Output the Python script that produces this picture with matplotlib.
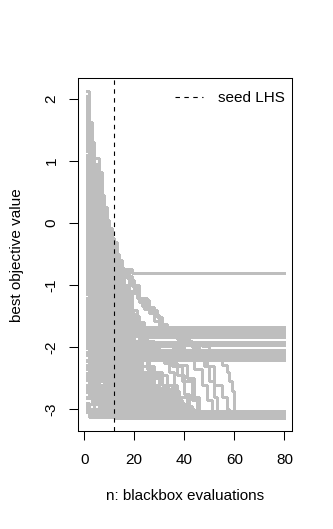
import matplotlib
matplotlib.use('Agg')
import matplotlib.pyplot as plt
from matplotlib.lines import Line2D

# ---------------- data ----------------
seed_n = 12          # end of the seed LHS design
n_max = 80           # last blackbox evaluation
x_ticks = [0, 20, 40, 60, 80]
y_ticks = [-3, -2, -1, 0, 1, 2]
x_label = "n: blackbox evaluations"
y_label = "best objective value"
legend_label = "seed LHS"

# each run: list of (n, best value so far) at the evaluations where the best improved;
# the last value is held until n_max
runs_plateau_081 = [
    [(1, 1.95), (2, 0.62), (5, -0.18), (8, -0.47), (12, -0.69), (15, -0.74), (19, -0.81)],
]

runs_band_172 = [
    [(1, 2.12), (2, 1.55), (3, 1.05), (6, 0.15), (9, -0.22), (11, -0.52), (13, -0.72), (16, -0.78), (18, -0.92), (20, -1.12), (22, -1.28), (24, -1.38), (26, -1.45), (28, -1.57), (30, -1.69)],
    [(1, 1.62), (3, 1.12), (4, 0.82), (7, -0.02), (10, -0.38), (12, -0.66), (14, -0.75), (17, -0.88), (19, -1.02), (21, -1.2), (23, -1.33), (26, -1.42), (29, -1.52), (31, -1.71)],
    [(1, 0.95), (2, 0.4), (5, -0.3), (9, -0.85), (13, -1.1), (15, -1.35), (17, -1.6), (19, -1.72)],
    [(1, 0.3), (3, -0.6), (6, -1.05), (10, -1.4), (14, -1.62), (16, -1.74)],
    [(1, -0.2), (2, -0.9), (7, -1.3), (12, -1.5), (15, -1.66), (18, -1.7)],
    [(1, 1.25), (4, 0.55), (6, 0.1), (8, -0.4), (11, -0.9), (14, -1.25), (18, -1.5), (20, -1.68)],
    [(1, -0.7), (3, -1.2), (5, -1.45), (13, -1.62), (17, -1.73)],
    [(1, 0.6), (2, -0.1), (4, -0.75), (9, -1.15), (12, -1.38), (16, -1.58), (21, -1.75)],
    [(1, -1.1), (6, -1.55), (14, -1.69)],
    [(1, 0.05), (3, -0.45), (8, -0.95), (11, -1.25), (15, -1.55), (19, -1.71)],
    [(1, 1.45), (2, 0.9), (4, 0.45), (7, -0.3), (10, -0.8), (13, -1.15), (16, -1.45), (20, -1.62), (23, -1.76)],
    [(1, -0.45), (4, -1.05), (9, -1.35), (13, -1.58), (22, -1.7)],
    [(1, 1.8), (2, 1.5), (3, 0.9), (5, 0.45), (8, -0.1), (11, -0.5), (14, -1.0), (17, -1.7)],
    [(1, -0.22), (3, -0.85), (8, -1.5), (12, -1.72)],
    [(1, 1.6), (2, 1.1), (3, 0.85), (4, 0.62), (6, 0.2), (9, -0.1), (11, -0.4), (12, -0.55), (14, -0.73), (16, -1.0), (18, -1.4), (21, -1.72)],
    [(1, 0.98), (2, 0.52), (4, 0.15), (6, -0.3), (9, -0.7), (12, -1.05), (15, -1.4), (18, -1.6), (21, -1.73)],
    [(1, -0.15), (4, -0.55), (8, -1.0), (12, -1.35), (15, -1.55), (19, -1.7), (22, -1.74)],
    [(1, 0.62), (2, 0.25), (5, -0.2), (8, -0.65), (11, -1.0), (14, -1.3), (18, -1.55), (22, -1.68)],
]

runs_band_185 = [
    [(1, 0.75), (2, 0.2), (5, -0.55), (9, -1.1), (13, -1.45), (17, -1.7), (20, -1.79)],
    [(1, -0.35), (3, -0.95), (8, -1.4), (12, -1.65), (18, -1.82)],
    [(1, 1.1), (3, 0.3), (6, -0.35), (10, -0.95), (14, -1.35), (18, -1.6), (24, -1.84)],
    [(1, -0.9), (5, -1.5), (11, -1.75), (19, -1.91)],
    [(1, 0.45), (3, -0.2), (7, -0.85), (12, -1.3), (15, -1.6), (19, -1.8), (25, -1.92)],
    [(1, -0.05), (4, -0.8), (9, -1.3), (13, -1.6), (17, -1.82), (23, -1.96)],
    [(1, -1.3), (3, -1.65), (10, -1.85), (16, -1.97), (26, -2.04)],
    [(1, 0.2), (2, -0.3), (6, -0.9), (11, -1.45), (16, -1.72), (20, -1.8)],
    [(1, 0.58), (4, 0.0), (6, -0.4), (9, -0.75), (12, -1.05), (15, -1.5), (19, -1.8)],
    [(1, -0.98), (3, -1.35), (7, -1.65), (12, -1.85), (18, -1.95)],
]

runs_band_215 = [
    [(1, 1.35), (2, 0.75), (5, 0.05), (8, -0.5), (12, -1.0), (14, -1.4), (16, -1.7), (18, -1.95), (21, -2.12)],
    [(1, -0.55), (3, -1.15), (7, -1.6), (11, -1.9), (15, -2.05), (19, -2.15)],
    [(1, 0.85), (2, 0.25), (4, -0.4), (9, -1.2), (13, -1.7), (16, -2.0), (20, -2.18)],
    [(1, -1.5), (4, -1.85), (10, -2.02), (17, -2.11)],
    [(1, 0.15), (3, -0.7), (6, -1.25), (12, -1.75), (17, -2.0), (22, -2.14)],
    [(1, -1.0), (2, -1.4), (8, -1.8), (14, -2.05), (18, -2.2)],
    [(1, 1.7), (2, 1.15), (3, 0.7), (5, 0.1), (7, -0.35), (10, -0.8), (13, -1.2), (17, -1.6), (20, -1.9), (23, -2.1), (26, -2.16)],
    [(1, -0.25), (4, -1.1), (9, -1.65), (15, -1.98), (21, -2.13)],
    [(1, -1.8), (7, -2.0), (16, -2.17)],
    [(1, 0.55), (3, -0.15), (6, -0.8), (10, -1.35), (14, -1.8), (19, -2.05), (24, -2.19)],
    [(1, -2.0), (9, -2.12)],
    [(1, -0.8), (3, -1.3), (6, -1.7), (13, -1.95), (20, -2.1)],
    [(1, 0.35), (2, -0.4), (5, -1.0), (11, -1.55), (16, -1.9), (23, -2.15)],
    [(1, -1.25), (5, -1.75), (12, -2.0), (18, -2.14)],
    [(1, 1.0), (2, 0.5), (6, -0.45), (10, -1.1), (15, -1.65), (19, -2.0), (22, -2.2)],
    [(1, -0.6), (2, -1.2), (7, -1.75), (15, -2.08), (24, -2.17)],
    [(1, 1.65), (2, 1.35), (3, 0.6), (5, 0.3), (7, -0.1), (10, -0.6), (13, -1.4), (16, -2.12)],
    [(1, 1.2), (3, 0.8), (5, 0.42), (7, 0.1), (9, -0.25), (11, -0.5), (13, -0.76), (16, -1.1), (19, -1.5), (22, -1.85), (25, -2.14)],
    [(1, 0.18), (3, -0.45), (7, -1.0), (11, -1.55), (14, -1.95), (18, -2.15)],
    [(1, -0.62), (3, -1.1), (7, -1.65), (10, -2.0), (14, -2.17)],
    [(1, -1.32), (3, -1.8), (9, -2.1), (15, -2.16)],
    [(1, -0.38), (2, -0.75), (5, -1.1), (9, -1.45), (13, -1.75), (17, -1.95), (21, -2.11)],
    [(1, 0.32), (3, -0.05), (6, -0.5), (10, -1.0), (13, -1.35), (16, -1.65), (19, -1.9), (23, -2.1), (27, -2.18)],
    [(1, -1.58), (3, -1.8), (8, -1.95), (13, -2.08), (19, -2.15)],
    [(1, -0.75), (2, -1.1), (6, -1.5), (10, -1.8), (15, -2.0), (20, -2.12)],
]

runs_late = [
    [(1, -3.02)],
    [(1, 1.5), (2, 0.95), (4, 0.35), (7, -0.25), (10, -0.55), (13, -0.74), (17, -0.85), (19, -1.0), (22, -1.24), (26, -1.4), (29, -1.52), (31, -1.72), (34, -1.8), (37, -1.87), (42, -1.94), (47, -1.98), (50, -2.08), (53, -2.16), (55, -2.28), (57, -2.4), (58, -2.55), (59, -2.7), (60, -3.02)],
    [(1, 0.7), (2, 0.1), (5, -0.6), (9, -1.05), (13, -1.4), (17, -1.72), (22, -1.9), (28, -1.98), (35, -2.0), (40, -2.05), (45, -2.12), (48, -2.3), (50, -2.55), (52, -2.8), (53, -3.05), (55, -3.1)],
    [(1, -0.15), (3, -0.75), (8, -1.3), (12, -1.7), (16, -1.95), (22, -2.0), (30, -2.05), (38, -2.15), (44, -2.35), (47, -2.6), (49, -2.85), (51, -3.03)],
    [(1, 1.2), (2, 0.45), (6, -0.2), (11, -0.7), (14, -0.8), (18, -1.0), (21, -1.2), (25, -1.35), (28, -1.48), (30, -1.62), (33, -1.8), (38, -1.9), (43, -2.0), (46, -2.1), (49, -2.3), (52, -2.6), (55, -2.8), (57, -3.0), (58, -3.12)],
    [(1, 0.72), (3, 0.22), (4, -0.2), (6, -0.55), (8, -0.85), (11, -1.2), (13, -1.55), (16, -1.95), (19, -2.3), (23, -2.6), (27, -2.8), (32, -2.95), (37, -3.05), (41, -3.11)],
    [(1, 0.42), (2, 0.12), (4, -0.3), (6, -0.6), (9, -1.0), (12, -1.4), (14, -1.75), (17, -2.05), (21, -2.3), (26, -2.5), (31, -2.6), (35, -2.75), (38, -2.95), (40, -3.08)],
    [(1, 0.22), (2, -0.1), (5, -0.5), (7, -0.8), (10, -1.15), (13, -1.5), (16, -1.85), (19, -2.1), (23, -2.3), (28, -2.45), (33, -2.6), (37, -2.8), (41, -3.0), (43, -3.12)],
    [(1, -0.08), (3, -0.4), (6, -0.85), (8, -1.1), (12, -1.5), (15, -1.8), (18, -2.1), (22, -2.4), (27, -2.65), (33, -2.85), (39, -3.0), (43, -3.1)],
    [(1, -0.28), (2, -0.6), (4, -0.9), (7, -1.25), (10, -1.55), (13, -1.8), (17, -2.0), (21, -2.2), (26, -2.4), (31, -2.6), (35, -2.8), (38, -3.0), (41, -3.13)],
    [(1, -0.48), (3, -0.8), (5, -1.05), (8, -1.4), (11, -1.7), (14, -1.95), (18, -2.2), (23, -2.45), (28, -2.7), (33, -2.9), (37, -3.06), (40, -3.12)],
    [(1, -0.68), (2, -0.98), (4, -1.25), (7, -1.55), (10, -1.85), (14, -2.15), (18, -2.4), (22, -2.6), (27, -2.8), (32, -2.98), (36, -3.11)],
]

runs_global = [
    [(1, 2.05), (2, 1.6), (3, 1.12), (4, 0.85), (6, 0.3), (8, -0.05), (10, -0.3), (12, -0.62), (14, -1.1), (16, -1.6), (18, -2.1), (20, -2.5), (22, -2.9), (24, -3.12)],
    [(1, 1.85), (2, 1.3), (4, 0.9), (5, 0.55), (7, 0.15), (9, -0.15), (11, -0.45), (13, -0.9), (15, -1.5), (17, -2.05), (19, -2.6), (21, -3.13)],
    [(1, 1.55), (2, 1.05), (3, 0.75), (5, 0.38), (8, -0.12), (11, -0.55), (14, -1.25), (17, -1.9), (20, -2.4), (23, -2.8), (26, -3.11)],
    [(1, 0.9), (3, 0.45), (5, 0.2), (7, -0.05), (9, -0.28), (12, -0.7), (15, -1.4), (18, -2.2), (21, -2.7), (25, -3.14)],
    [(1, 1.3), (2, 0.85), (4, 0.6), (6, 0.25), (9, -0.2), (10, -0.4), (13, -0.78), (16, -1.2), (19, -1.65), (22, -2.05), (25, -2.35), (28, -2.7), (31, -2.95), (33, -3.12)],
    [(1, 0.5), (2, 0.05), (5, -0.5), (8, -1.0), (11, -1.6), (14, -2.2), (17, -2.7), (20, -3.1)],
    [(1, -0.3), (3, -0.9), (6, -1.4), (10, -1.9), (13, -2.4), (16, -2.85), (18, -3.13)],
    [(1, 0.1), (2, -0.5), (4, -1.1), (7, -1.7), (12, -2.3), (15, -2.7), (19, -3.1)],
    [(1, -2.5), (4, -2.9), (9, -3.12)],
    [(1, -1.6), (3, -2.2), (8, -2.6), (13, -2.95), (16, -3.14)],
    [(1, -2.9), (2, -3.12)],
    [(1, 1.7), (2, 0.6), (3, 0.25), (6, -0.25), (9, -0.6), (12, -1.3), (15, -2.0), (18, -2.6), (22, -3.09)],
    [(1, 0.7), (2, -0.15), (5, -0.95), (9, -1.5), (13, -2.1), (17, -2.55), (22, -2.9), (27, -3.12)],
    [(1, -0.95), (2, -1.6), (6, -2.15), (11, -2.6), (15, -3.0), (17, -3.13)],
    [(1, -2.2), (3, -2.65), (7, -2.89), (12, -3.14)],
    [(1, 1.1), (3, 0.35), (5, -0.1), (8, -0.6), (11, -1.1), (14, -1.7), (17, -2.15), (20, -2.5), (24, -2.8), (28, -3.0), (31, -3.11)],
    [(1, -0.55), (4, -1.35), (8, -1.95), (12, -2.45), (16, -2.8), (21, -3.1)],
    [(1, 0.4), (2, -0.25), (4, -0.8), (7, -1.3), (10, -1.75), (14, -2.25), (19, -2.65), (24, -2.95), (29, -3.13)],
    [(1, -1.95), (2, -2.4), (5, -2.75), (10, -3.05), (13, -3.12)],
    [(1, -1.2), (3, -1.75), (9, -2.3), (14, -2.75), (18, -3.1)],
    [(1, 0.8), (2, 0.3), (3, -0.35), (6, -0.9), (10, -1.5), (13, -1.95), (16, -2.3), (20, -2.6), (25, -2.85), (30, -3.05), (34, -3.12)],
    [(1, -2.7), (6, -3.0), (14, -3.14)],
    [(1, -0.05), (2, -0.65), (5, -1.25), (9, -1.8), (13, -2.2), (17, -2.5), (21, -2.75), (26, -2.95), (32, -3.1)],
    [(1, 1.4), (2, 0.7), (4, 0.1), (7, -0.45), (10, -0.95), (12, -1.35), (15, -1.9), (18, -2.35), (22, -2.7), (27, -2.95), (36, -3.12)],
    [(1, -1.45), (2, -1.95), (7, -2.45), (12, -2.8), (15, -3.13)],
    [(1, -0.4), (3, -1.0), (7, -1.55), (11, -2.0), (15, -2.3), (19, -2.6), (24, -2.85), (29, -3.02), (38, -3.11)],
    [(1, -2.35), (2, -2.8), (4, -3.08)],
    [(1, 0.25), (3, -0.35), (5, -0.75), (9, -1.4), (12, -1.85), (16, -2.25), (20, -2.45), (25, -2.6), (30, -2.75), (35, -2.9), (40, -3.05), (42, -3.13)],
    [(1, -1.7), (5, -2.25), (10, -2.6), (14, -2.95), (20, -3.12)],
    [(1, -0.85), (2, -1.45), (6, -1.9), (10, -2.3), (14, -2.6), (18, -2.85), (23, -3.0), (27, -3.14)],
    [(1, 0.6), (2, -0.05), (4, -0.6), (8, -1.25), (11, -1.7), (15, -2.15), (19, -2.4), (23, -2.6), (28, -2.8), (33, -2.95), (37, -3.05), (39, -3.1)],
    [(1, -2.1), (3, -2.5), (9, -2.85), (14, -3.1)],
    [(1, -1.05), (4, -1.65), (9, -2.15), (13, -2.5), (17, -2.7), (21, -2.9), (25, -3.13)],
    [(1, 1.0), (2, 0.15), (5, -0.4), (8, -0.9), (11, -1.4), (13, -1.8), (16, -2.2), (20, -2.5), (24, -2.7), (29, -2.85), (34, -2.98), (40, -3.06), (44, -3.12)],
    [(1, -3.05), (5, -3.13)],
    [(1, -0.7), (2, -1.3), (5, -1.8), (9, -2.2), (13, -2.55), (17, -2.75), (22, -2.95), (26, -3.1)],
    [(1, -1.35), (4, -1.9), (8, -2.35), (12, -2.7), (16, -2.9), (20, -3.05), (23, -3.12)],
    [(1, 0.0), (3, -0.55), (6, -1.15), (10, -1.65), (13, -2.05), (17, -2.35), (21, -2.55), (26, -2.75), (31, -2.9), (36, -3.0), (41, -3.08), (46, -3.13)],
    [(1, -2.6), (3, -2.85), (8, -3.02), (11, -3.1)],
    [(1, -1.85), (2, -2.15), (6, -2.5), (11, -2.8), (16, -3.0), (19, -3.14)],
    [(1, -0.1), (2, -0.8), (6, -1.35), (10, -1.85), (14, -2.3), (18, -2.6), (22, -2.8), (27, -2.95), (32, -3.05), (35, -3.12)],
    [(1, 0.5), (3, -0.1), (7, -0.7), (11, -1.2), (14, -1.6), (18, -2.0), (22, -2.3), (26, -2.5), (30, -2.65), (34, -2.8), (38, -2.95), (43, -3.06), (48, -3.11)],
    [(1, -2.8), (7, -3.05), (12, -3.13)],
    [(1, -1.55), (2, -2.05), (5, -2.4), (9, -2.65), (13, -2.9), (17, -3.08), (21, -3.12)],
    [(1, -0.65), (3, -1.2), (6, -1.65), (10, -2.1), (14, -2.45), (19, -2.7), (24, -2.9), (30, -3.03), (37, -3.13)],
    [(1, -2.45), (5, -2.75), (11, -2.98), (15, -3.11)],
    [(1, -1.15), (2, -1.7), (7, -2.1), (12, -2.45), (16, -2.65), (20, -2.85), (25, -3.0), (30, -3.1)],
    [(1, 0.15), (2, -0.45), (5, -1.05), (9, -1.55), (12, -1.9), (16, -2.2), (20, -2.4), (24, -2.55), (28, -2.7), (32, -2.85), (36, -2.97), (40, -3.04), (45, -3.14)],
    [(1, -2.0), (4, -2.4), (8, -2.75), (15, -3.12)],
    [(1, -2.95), (2, -3.11)],
    [(1, -1.75), (3, -2.3), (10, -2.7), (17, -2.95), (22, -3.13)],
    [(1, -0.95), (5, -1.55), (9, -2.0), (13, -2.35), (18, -2.6), (23, -2.8), (28, -2.95), (33, -3.06), (38, -3.12)],
    [(1, 0.65), (2, 0.0), (5, -0.6), (9, -1.2), (12, -1.6), (16, -1.9), (20, -2.05), (25, -2.12), (30, -2.2), (34, -2.4), (36, -2.7), (38, -2.95), (40, -3.12)],
    [(1, -0.5), (4, -1.1), (8, -1.6), (13, -1.95), (18, -2.1), (24, -2.15), (32, -2.25), (37, -2.45), (40, -2.75), (42, -3.0), (44, -3.11)],
    [(1, -1.4), (6, -1.8), (12, -2.05), (19, -2.15), (28, -2.2), (35, -2.3), (39, -2.55), (43, -2.85), (45, -3.13)],
    [(1, 0.3), (2, -0.35), (6, -0.95), (10, -1.45), (14, -1.8), (18, -2.0), (23, -2.1), (29, -2.18), (34, -2.28), (41, -2.5), (44, -2.8), (46, -3.05), (48, -3.12)],
]

runs_global_fast = [
    [(1, 2.0), (2, 1.45), (3, 0.95), (5, 0.4), (7, 0.05), (10, -0.35), (12, -0.6), (14, -1.3), (17, -2.2), (20, -3.1)],
    [(1, 1.9), (2, 1.2), (4, 0.7), (6, 0.2), (9, -0.3), (13, -0.9), (16, -1.8), (19, -2.6), (23, -3.12)],
    [(1, 1.75), (2, 0.8), (3, 0.5), (6, 0.0), (9, -0.5), (12, -1.1), (15, -1.9), (18, -2.5), (21, -3.11)],
    [(1, 1.5), (3, 1.0), (4, 0.75), (6, 0.28), (8, -0.08), (11, -0.6), (15, -1.5), (18, -2.3), (21, -2.8), (25, -3.13)],
    [(1, 1.4), (2, 1.0), (4, 0.5), (7, -0.15), (10, -0.7), (14, -1.6), (17, -2.4), (20, -3.1)],
    [(1, 1.35), (2, 0.55), (5, -0.25), (9, -0.9), (13, -1.7), (16, -2.5), (19, -3.12)],
    [(1, 1.15), (2, 0.65), (4, 0.2), (7, -0.4), (10, -0.95), (13, -1.5), (17, -2.2), (21, -2.7), (26, -3.1)],
    [(1, 1.05), (2, 0.35), (5, -0.3), (8, -0.8), (12, -1.45), (15, -2.0), (19, -2.5), (24, -3.0), (27, -3.12)],
    [(1, 0.95), (3, 0.5), (4, 0.3), (7, -0.2), (10, -0.45), (12, -0.72), (15, -1.3), (18, -1.9), (21, -2.6), (24, -3.13)],
    [(1, 0.88), (2, 0.2), (6, -0.6), (9, -1.1), (13, -1.8), (16, -2.4), (20, -3.11)],
    [(1, 0.78), (3, 0.1), (5, -0.35), (9, -0.95), (12, -1.4), (16, -1.95), (20, -2.5), (25, -2.9), (31, -3.12)],
    [(1, 0.68), (2, 0.45), (4, -0.05), (7, -0.65), (11, -1.3), (14, -1.85), (18, -2.3), (22, -2.65), (27, -2.95), (33, -3.13)],
    [(1, 0.48), (2, -0.2), (5, -0.8), (8, -1.35), (12, -1.9), (15, -2.35), (19, -2.7), (23, -3.1)],
    [(1, 0.38), (3, -0.25), (6, -0.75), (10, -1.25), (13, -1.7), (17, -2.2), (22, -2.6), (28, -2.9), (34, -3.1)],
    [(1, 0.28), (2, -0.15), (4, -0.6), (8, -1.2), (11, -1.65), (15, -2.1), (19, -2.45), (24, -2.75), (29, -3.0), (32, -3.11)],
    [(1, 0.08), (2, -0.35), (5, -0.9), (9, -1.45), (13, -2.0), (17, -2.5), (21, -2.85), (25, -3.12)],
    [(1, -0.02), (4, -0.7), (7, -1.15), (11, -1.6), (15, -2.05), (19, -2.4), (25, -2.7), (30, -2.9), (36, -3.05), (39, -3.12)],
    [(1, -0.12), (2, -0.55), (6, -1.1), (10, -1.7), (14, -2.2), (18, -2.6), (22, -2.95), (24, -3.13)],
    [(1, -0.32), (2, -0.7), (5, -1.2), (9, -1.75), (13, -2.25), (17, -2.7), (20, -3.1)],
    [(1, -0.42), (4, -1.0), (8, -1.6), (12, -2.1), (16, -2.55), (21, -2.9), (26, -3.11)],
    [(1, -0.52), (2, -0.95), (6, -1.45), (11, -1.95), (15, -2.35), (20, -2.65), (26, -2.85), (31, -3.0), (35, -3.13)],
    [(1, -0.72), (2, -1.15), (5, -1.6), (9, -2.05), (13, -2.45), (18, -2.8), (22, -3.12)],
    [(1, -0.82), (4, -1.35), (8, -1.85), (12, -2.3), (17, -2.7), (21, -3.05), (23, -3.14)],
    [(1, -0.92), (2, -1.25), (7, -1.8), (10, -2.15), (14, -2.5), (19, -2.85), (24, -3.1)],
    [(1, -1.02), (3, -1.5), (6, -1.85), (9, -2.2), (13, -2.6), (16, -2.95), (18, -3.12)],
    [(1, -1.12), (5, -1.7), (10, -2.2), (15, -2.6), (19, -2.9), (23, -3.13)],
    [(1, -1.22), (2, -1.55), (4, -1.9), (8, -2.3), (12, -2.65), (17, -2.95), (22, -3.11)],
    [(1, -1.42), (2, -1.75), (6, -2.2), (11, -2.6), (16, -2.9), (20, -3.1)],
    [(1, -1.52), (4, -2.0), (9, -2.4), (13, -2.75), (17, -3.0), (21, -3.12)],
    [(1, -1.62), (3, -2.1), (7, -2.55), (12, -2.9), (15, -3.13)],
    [(1, -1.72), (2, -2.05), (6, -2.45), (10, -2.7), (14, -2.95), (18, -3.11)],
    [(1, -1.82), (5, -2.3), (11, -2.7), (16, -3.0), (19, -3.14)],
    [(1, -1.92), (3, -2.35), (8, -2.65), (12, -2.85), (16, -3.1)],
    [(1, -2.02), (2, -2.3), (6, -2.6), (10, -2.95), (13, -3.12)],
    [(1, -2.12), (4, -2.55), (9, -2.8), (14, -3.05), (17, -3.13)],
    [(1, -2.22), (3, -2.6), (7, -2.85), (11, -3.1)],
    [(1, -2.32), (5, -2.7), (10, -2.95), (12, -3.12)],
    [(1, -2.42), (2, -2.7), (8, -2.92), (13, -3.11)],
    [(1, -2.52), (4, -2.82), (9, -3.0), (14, -3.13)],
    [(1, -2.62), (3, -2.9), (10, -3.09)],
    [(1, -2.72), (6, -2.95), (11, -3.12)],
    [(1, -2.82), (4, -3.0), (13, -3.14)],
    [(1, -2.92), (8, -3.1)],
    [(1, -3.0), (3, -3.12)],
    [(1, 1.0), (2, 0.72), (4, 0.55), (5, 0.35), (7, 0.05), (8, -0.02), (10, -0.25), (12, -0.58), (13, -0.7), (15, -1.2), (18, -1.9), (21, -2.5), (24, -3.0), (26, -3.12)],
    [(1, 0.85), (2, 0.6), (3, 0.4), (5, 0.15), (6, -0.1), (8, -0.35), (10, -0.6), (11, -0.75), (14, -1.4), (17, -2.0), (20, -2.65), (23, -3.1)],
    [(1, -0.88), (3, -1.2), (6, -1.5), (9, -1.8), (12, -2.05), (16, -2.3), (20, -2.55), (25, -2.75), (30, -2.92), (34, -3.1)],
    [(1, -1.08), (2, -1.35), (5, -1.65), (8, -1.95), (11, -2.25), (15, -2.5), (19, -2.75), (24, -2.95), (28, -3.13)],
    [(1, -1.28), (4, -1.6), (7, -1.9), (10, -2.2), (13, -2.45), (17, -2.7), (21, -2.9), (26, -3.05), (30, -3.11)],
    [(1, -1.48), (3, -1.8), (5, -2.05), (9, -2.35), (13, -2.6), (17, -2.85), (21, -3.0), (25, -3.12)],
    [(1, -1.68), (2, -1.9), (6, -2.25), (10, -2.5), (14, -2.75), (19, -2.95), (24, -3.1)],
    [(1, -1.88), (4, -2.2), (8, -2.45), (12, -2.7), (17, -2.9), (22, -3.05), (26, -3.13)],
    [(1, -2.08), (2, -2.3), (7, -2.55), (11, -2.8), (16, -3.0), (20, -3.11)],
    [(1, -2.28), (4, -2.5), (9, -2.72), (13, -2.92), (17, -3.12)],
    [(1, -2.48), (3, -2.65), (7, -2.8), (11, -2.93), (14, -3.07), (16, -3.13)],
    [(1, -2.68), (5, -2.85), (10, -3.0), (13, -3.1)],
]

# ---------------- plot ----------------
plt.rcParams['font.family'] = ['Liberation Sans', 'DejaVu Sans']
fig = plt.figure(figsize=(3.33, 5.29), dpi=100)
ax = fig.add_axes([0.234, 0.185, 0.6426, 0.6673])

grey = '#BEBEBE'
for group in (runs_global, runs_global_fast, runs_late, runs_band_215, runs_band_185,
              runs_band_172, runs_plateau_081):
    for run in group:
        xs = [p[0] for p in run] + [n_max]
        ys = [p[1] for p in run] + [run[-1][1]]
        ax.plot(xs, ys, drawstyle='steps-post', color=grey, lw=0.75,
                antialiased=False, solid_joinstyle='miter')

ax.axvline(seed_n, color='black', lw=0.8, linestyle=(0, (4, 4)))

ax.set_xlim(-2.5, 83.0)
ax.set_ylim(-3.35, 2.33)
ax.set_xticks(x_ticks)
ax.set_yticks(y_ticks)
ax.set_xticklabels([str(v) for v in x_ticks])
ax.set_yticklabels([str(v) for v in y_ticks])
ax.tick_params(direction='out', length=6.5, width=0.75, labelsize=11, colors='black')
ax.tick_params(axis='x', pad=9)
ax.tick_params(axis='y', pad=7.4)
for lab in ax.get_yticklabels():
    lab.set_rotation(90)
    lab.set_va('center')
for s in ax.spines.values():
    s.set_linewidth(0.75)
    s.set_color('black')

ax.set_xlabel(x_label, fontsize=11, labelpad=16)
ax.set_ylabel(y_label, fontsize=11, labelpad=14.5)

handle = Line2D([0], [0], color='black', lw=0.8, linestyle=(0, (4, 4)))
ax.legend([handle], [legend_label], loc='upper right', frameon=False, fontsize=11,
          handlelength=1.85, handletextpad=1.0, borderaxespad=0, borderpad=0,
          bbox_to_anchor=(285 / 333, 1 - 91 / 529), bbox_transform=fig.transFigure)

fig.savefig('out.png', dpi=100)
